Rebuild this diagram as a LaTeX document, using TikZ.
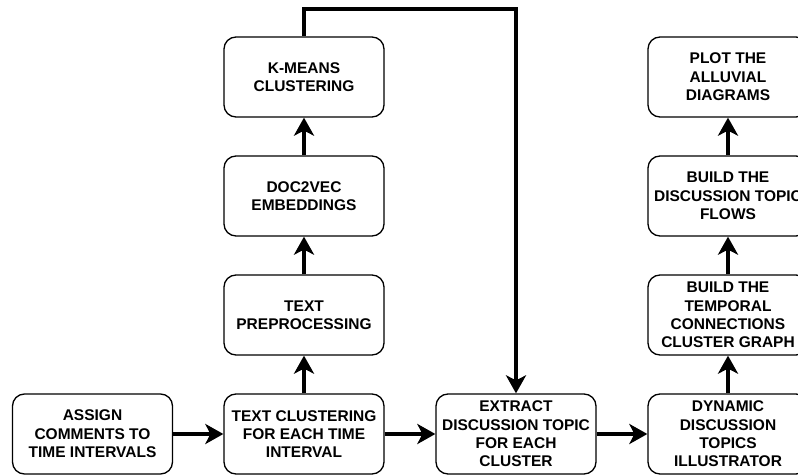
\documentclass[tikz,border=0pt]{standalone}
\usepackage{fontspec}
\setmainfont{Liberation Sans}
\usetikzlibrary{arrows.meta}
\tikzset{
  stepbox/.style={draw=black, fill=white, rounded corners=12pt, minimum width=160pt, minimum height=80pt,
    line width=1.3pt, align=center, inner sep=0pt,
    font=\bfseries\fontsize{15.5}{18.4}\selectfont},
  conn/.style={draw=black, line width=4pt, -{Stealth[length=18pt,width=20pt,inset=5pt]}}
}
\begin{document}
\begin{tikzpicture}[x=1pt,y=-1pt]
\useasboundingbox (0,0) rectangle (798,476);
\node[stepbox] (as) at (92.5,434) {ASSIGN\\COMMENTS TO\\TIME INTERVALS};
\node[stepbox] (tc) at (304,434) {TEXT CLUSTERING\\FOR EACH TIME\\INTERVAL};
\node[stepbox] (ex) at (516,434) {EXTRACT\\DISCUSSION TOPIC\\FOR EACH\\CLUSTER};
\node[stepbox] (dy) at (728,434) {DYNAMIC\\DISCUSSION\\TOPICS\\ILLUSTRATOR};
\node[stepbox] (tp) at (304,315) {TEXT\\PREPROCESSING};
\node[stepbox] (dv) at (304,196) {DOC2VEC\\EMBEDDINGS};
\node[stepbox] (km) at (304,77) {K-MEANS\\CLUSTERING};
\node[stepbox] (bt) at (728,315) {BUILD THE\\TEMPORAL\\CONNECTIONS\\CLUSTER GRAPH};
\node[stepbox] (bf) at (728,196) {BUILD THE\\DISCUSSION TOPIC\\FLOWS};
\node[stepbox] (pl) at (728,77) {PLOT THE\\ALLUVIAL\\DIAGRAMS};
\draw[conn] (as.east) -- (tc.west);
\draw[conn] (tc.east) -- (ex.west);
\draw[conn] (ex.east) -- (dy.west);
\draw[conn] (tc.north) -- (tp.south);
\draw[conn] (tp.north) -- (dv.south);
\draw[conn] (dv.north) -- (km.south);
\draw[conn] (dy.north) -- (bt.south);
\draw[conn] (bt.north) -- (bf.south);
\draw[conn] (bf.north) -- (pl.south);
\draw[conn] (km.north) -- ++(0,-27) -| (ex.north);
\end{tikzpicture}
\end{document}
